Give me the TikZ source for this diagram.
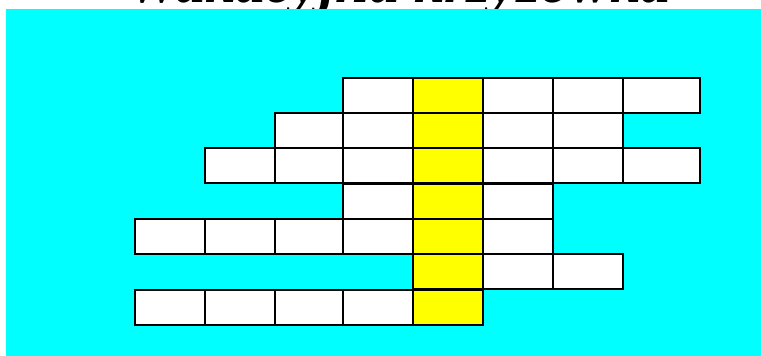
\documentclass[tikz,border=0pt]{standalone}
\usepackage{fontspec}
\setmainfont{Liberation Serif}
\usepackage{xcolor}
\definecolor{board}{RGB}{0, 255, 255}
\definecolor{answer}{RGB}{255, 255, 0}

\begin{document}
\begin{tikzpicture}[x=1pt, y=-1pt,
    cell/.style={draw=black, line width=2pt, fill=white},
    key/.style={cell, fill=answer}]
        \useasboundingbox (0,0) rectangle (761,356);
        \node[anchor=base, inner sep=0pt, font=\bfseries\itshape\fontsize{60}{66}\selectfont] (title) at (399,2) {Wakacyjna krzyżówka};
        \fill[board] (6,9) rectangle (761,356);

        % white cells, row by row: top edge / list of left/right edges
        \foreach \y/\cells in {78/{343/413,483/553,553/623,623/700},
                               113/{275/343,343/413,483/553,553/623},
                               148/{205/275,275/343,343/413,483/553,553/623,623/700},
                               184/{343/413,483/553},
                               219/{135/205,205/275,275/343,343/413,483/553},
                               254/{483/553,553/623},
                               290/{135/205,205/275,275/343,343/413}} {
            \foreach \a/\b in \cells {
                \draw[cell] (\a,\y) rectangle (\b,\y+35.3);
            }
        }
        % solution column
        \foreach \y in {78,113,148,184,219,254,290} {
            \draw[key] (413,\y) rectangle (483,\y+35.3);
        }
    \end{tikzpicture}
\end{document}
